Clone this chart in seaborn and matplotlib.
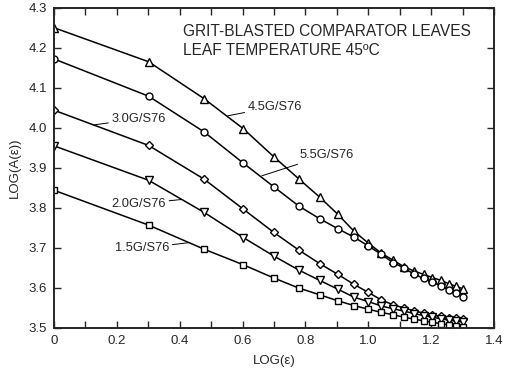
import numpy as np
import pandas as pd
import matplotlib
matplotlib.use("Agg")
import matplotlib.pyplot as plt
import seaborn as sns
from matplotlib.ticker import MultipleLocator, FixedLocator, FuncFormatter

sns.set_style("ticks")
plt.rcParams['font.family'] = ['Liberation Sans', 'DejaVu Sans']

# data: x = log(strain index 1..20)
n_index = list(range(1, 21))
log_eps = [float(np.log10(n)) for n in n_index]

series_names = ["4.5G/S76", "5.5G/S76", "3.0G/S76", "2.0G/S76", "1.5G/S76"]
y_45 = [4.250, 4.165, 4.073, 3.998, 3.928, 3.873, 3.827, 3.784, 3.742, 3.712,
        3.687, 3.669, 3.653, 3.642, 3.634, 3.626, 3.619, 3.611, 3.604, 3.598]
y_55 = [4.172, 4.079, 3.990, 3.912, 3.853, 3.805, 3.773, 3.748, 3.727, 3.705,
        3.684, 3.663, 3.650, 3.634, 3.624, 3.616, 3.604, 3.596, 3.588, 3.578]
y_30 = [4.044, 3.956, 3.872, 3.797, 3.739, 3.695, 3.661, 3.634, 3.609, 3.589,
        3.570, 3.558, 3.550, 3.543, 3.537, 3.533, 3.529, 3.526, 3.524, 3.522]
y_20 = [3.955, 3.869, 3.789, 3.726, 3.680, 3.645, 3.619, 3.597, 3.577, 3.566,
        3.555, 3.548, 3.542, 3.536, 3.531, 3.527, 3.523, 3.520, 3.517, 3.515]
y_15 = [3.844, 3.757, 3.697, 3.658, 3.625, 3.600, 3.583, 3.568, 3.556, 3.547,
        3.539, 3.533, 3.527, 3.522, 3.518, 3.514, 3.511, 3.508, 3.505, 3.503]
series_values = [y_45, y_55, y_30, y_20, y_15]
markers = ['^', 'o', 'D', 'v', 's']
msizes = [5.5, 5.0, 4.5, 5.5, 4.6]

x_ticks = [0, 0.2, 0.4, 0.6, 0.8, 1.0, 1.2, 1.4]
x_tick_labels = ["0", "0.2", "0.4", "0.6", "0.8", "1.0", "1.2", "1.4"]
y_ticks = [3.5, 3.6, 3.7, 3.8, 3.9, 4.0, 4.1, 4.2, 4.3]

title_lines = ["GRIT-BLASTED COMPARATOR LEAVES", "LEAF TEMPERATURE 45ºC"]

fig = plt.figure(figsize=(5.05, 3.72), dpi=100)
ax = fig.add_axes([54/505, 1-328/372, 440/505, (328-7.7)/372])

for name, vals, mk, ms in zip(series_names, series_values, markers, msizes):
    df = pd.DataFrame({"x": log_eps, "y": vals})
    sns.lineplot(data=df, x="x", y="y", ax=ax, color="black", linewidth=1.1,
                 marker=mk, markersize=ms, markerfacecolor="white",
                 markeredgecolor="black", markeredgewidth=1.0, sort=False)

ax.set_xlim(0, 1.4)
ax.set_ylim(3.5, 4.3)
ax.xaxis.set_major_locator(FixedLocator(x_ticks))
ax.set_xticklabels(x_tick_labels)
ax.xaxis.set_minor_locator(MultipleLocator(0.1))
ax.yaxis.set_major_locator(FixedLocator(y_ticks))
ax.yaxis.set_major_formatter(FuncFormatter(lambda v, p: f"{v:.1f}"))
ax.tick_params(which='both', direction='in', top=True, right=True,
               length=5, width=1.0, labelsize=9.5, pad=5)
for s in ax.spines.values():
    s.set_linewidth(1.4)
    s.set_visible(True)

ax.set_xlabel("LOG(ε)", fontsize=9.5)
ax.set_ylabel("LOG(A(ε))", fontsize=9.5)
ax.xaxis.set_label_coords(0.5, -(355 - 328) / 320.3)
ax.yaxis.set_label_coords(-(54 - 21) / 440, 0.5)

fig.text(182.7/505, 1-32/372, title_lines[0], fontsize=11.2, va='center', ha='left')
fig.text(182.7/505, 1-50.7/372, title_lines[1], fontsize=11.2, va='center', ha='left')

lab_kw = dict(fontsize=9.3, va='center')
arrow = dict(arrowstyle='-', color='black', lw=0.7, shrinkA=0, shrinkB=0)
ax.annotate(series_names[0], xy=(0.553, 4.030), xytext=(0.617, 4.053),
            ha='left', arrowprops=arrow, **lab_kw)
ax.annotate(series_names[1], xy=(0.661, 3.880), xytext=(0.780, 3.932),
            ha='left', arrowprops=arrow, **lab_kw)
ax.annotate(series_names[2], xy=(0.125, 4.007), xytext=(0.183, 4.023),
            ha='left', arrowprops=arrow, **lab_kw)
ax.annotate(series_names[3], xy=(0.406, 3.821), xytext=(0.356, 3.810),
            ha='right', arrowprops=arrow, **lab_kw)
ax.annotate(series_names[4], xy=(0.427, 3.713), xytext=(0.366, 3.699),
            ha='right', arrowprops=arrow, **lab_kw)

fig.savefig("out.png", dpi=100, facecolor="white")
